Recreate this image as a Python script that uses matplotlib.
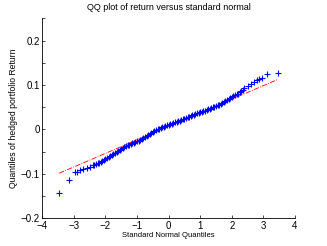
import matplotlib
matplotlib.use("Agg")
import matplotlib.pyplot as plt
import numpy as np

plt.rcParams['font.family'] = ['Liberation Sans', 'DejaVu Sans']

# standard normal quantiles (x) and sample quantiles of the hedged return (y)
normal_q = [-3.47, -3.16, -2.98, -2.89, -2.8, -2.7, -2.6, -2.5,
            -2.4, -2.35, -2.3, -2.25, -2.2, -2.15, -2.1, -2.05, -2.0, -1.95,
            -1.9, -1.85, -1.8, -1.75, -1.7, -1.65, -1.6, -1.55, -1.5, -1.45,
            -1.4, -1.35, -1.3, -1.25, -1.2, -1.15, -1.1, -1.05, -1.0, -0.95,
            -0.9, -0.85, -0.8, -0.75, -0.7, -0.65, -0.6, -0.55, -0.5, -0.45,
            -0.4, -0.35, -0.3, -0.25, -0.2, -0.15, -0.1, -0.05, 0.0, 0.05,
            0.1, 0.15, 0.2, 0.25, 0.3, 0.35, 0.4, 0.45, 0.5, 0.55,
            0.6, 0.65, 0.7, 0.75, 0.8, 0.85, 0.9, 0.95, 1.0, 1.05,
            1.1, 1.15, 1.2, 1.25, 1.3, 1.35, 1.4, 1.45, 1.5, 1.55,
            1.6, 1.65, 1.7, 1.75, 1.8, 1.85, 1.9, 1.95, 2.0, 2.05,
            2.1, 2.15, 2.2, 2.25, 2.3, 2.35, 2.4,
            2.5, 2.6, 2.7, 2.8, 2.87, 2.97, 3.13, 3.45]
return_q = [-0.143, -0.114, -0.096, -0.095, -0.092, -0.089, -0.086, -0.084,
            -0.081, -0.0795, -0.078, -0.0765, -0.075, -0.073, -0.071, -0.068, -0.066, -0.064,
            -0.062, -0.060, -0.058, -0.0555, -0.053, -0.0505, -0.048, -0.046, -0.044, -0.042,
            -0.040, -0.038, -0.036, -0.0345, -0.033, -0.0315, -0.030, -0.0285, -0.027, -0.025,
            -0.023, -0.021, -0.019, -0.017, -0.015, -0.0125, -0.010, -0.008, -0.006, -0.004,
            -0.002, 0.000, 0.002, 0.0035, 0.005, 0.0065, 0.008, 0.009, 0.010, 0.0115,
            0.013, 0.0145, 0.016, 0.017, 0.018, 0.0195, 0.021, 0.0225, 0.024, 0.0255,
            0.027, 0.0285, 0.030, 0.0315, 0.033, 0.0345, 0.036, 0.0375, 0.039, 0.040,
            0.041, 0.0425, 0.044, 0.0455, 0.047, 0.0485, 0.050, 0.0515, 0.053, 0.0545,
            0.056, 0.058, 0.060, 0.062, 0.064, 0.066, 0.068, 0.0705, 0.073, 0.075,
            0.077, 0.079, 0.081, 0.084, 0.087, 0.090, 0.093,
            0.098, 0.103, 0.107, 0.111, 0.113, 0.116, 0.125, 0.128]

# reference line through the quartiles
line_slope = 0.0305
line_intercept = 0.0072

fig = plt.figure(figsize=(3.27, 2.46), dpi=100)
ax = fig.add_axes([0.1294, 0.1126, 0.7726, 0.8124])

xl = np.array([min(normal_q), max(normal_q)])
ax.plot(xl, line_intercept + line_slope * xl, '-.', color='red', linewidth=0.6)

ax.plot(normal_q, return_q, '+', color='blue', markersize=5, markeredgewidth=0.8)

ax.set_xlim(-4, 4)
ax.set_ylim(-0.2, 0.25)
ax.set_xticks([-4, -3, -2, -1, 0, 1, 2, 3, 4])
ax.set_xticklabels(['\u22124', '\u22123', '\u22122', '\u22121', '0', '1', '2', '3', '4'])
yt = [-0.2, -0.15, -0.1, -0.05, 0, 0.05, 0.1, 0.15, 0.2, 0.25]
ax.set_yticks(yt)
ax.set_yticklabels(['\u22120.2', '', '\u22120.1', '', '0', '', '0.1', '', '0.2', ''])
ax.tick_params(direction='in', length=2.5, width=0.5, labelsize=7, pad=2)

for s in ['top', 'right']:
    ax.spines[s].set_visible(False)
for s in ['left', 'bottom']:
    ax.spines[s].set_linewidth(0.6)

ax.set_title('QQ plot of return versus standard normal', fontsize=6.5, pad=6)
ax.set_xlabel('Standard Normal Quantiles', fontsize=5.5, labelpad=1)
ax.set_ylabel('Quantiles of hedged portfolio Return', fontsize=6.2, labelpad=2)

fig.savefig('out.png', dpi=100)
